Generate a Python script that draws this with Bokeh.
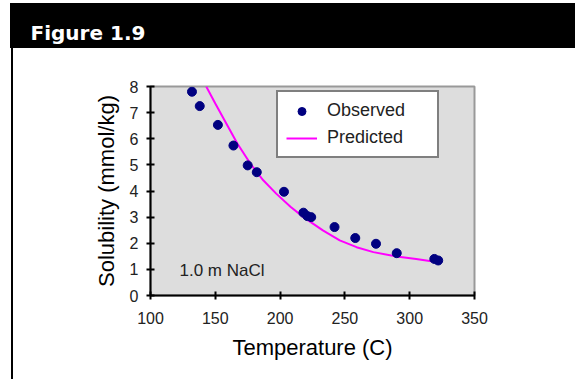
from bokeh.plotting import figure
from bokeh.models import (ColumnDataSource, Range1d, FixedTicker, Legend, LegendItem,
                          Label, Title)
from bokeh.embed import file_html
from bokeh.resources import INLINE

# Observed data
temperature_obs = [132, 138, 152, 164, 175, 182, 203, 218, 221, 224, 242, 258, 274, 290, 319, 322]
solubility_obs = [7.8, 7.25, 6.53, 5.74, 4.98, 4.72, 3.97, 3.17, 3.04, 3.0, 2.62, 2.2, 1.98, 1.62, 1.4, 1.34]

# Predicted curve
temperature_pred = [143, 150, 157, 167, 177, 187, 197, 208, 218, 233, 246, 259, 272, 290, 305, 318]
solubility_pred = [8.0, 7.35, 6.72, 5.82, 5.05, 4.41, 3.9, 3.4, 3.0, 2.49, 2.11, 1.85, 1.66, 1.49, 1.40, 1.30]

x_ticks = [100, 150, 200, 250, 300, 350]
y_ticks = [0, 1, 2, 3, 4, 5, 6, 7, 8]

title_text = "Figure 1.9"
x_label = "Temperature (C)"
y_label = "Solubility (mmol/kg)"
note_text = "1.0 m NaCl"

FL, FR, FT, FB = 150, 474, 86, 295   # frame edges on the canvas
W, H = 575, 379

p = figure(width=W, height=H, output_backend="svg", toolbar_location=None,
           x_range=Range1d(100, 350), y_range=Range1d(0, 8),
           min_border_left=FL, min_border_right=W - FR,
           min_border_top=FT, min_border_bottom=H - FB)

# page decoration: black header band and black left rule
p.styles = {
    "background-color": "white",
    "background-image": "linear-gradient(#000,#000), linear-gradient(#000,#000)",
    "background-size": "565px 45px, 2px 331px",
    "background-position": "10px 3px, 11px 48px",
    "background-repeat": "no-repeat",
}
p.border_fill_color = None
p.background_fill_color = "#dddddd"
p.outline_line_color = "#999999"
p.outline_line_width = 2
p.xgrid.visible = False
p.ygrid.visible = False

# header title, with a spacer panel between it and the frame
p.title = None
spacer = Title(text=" ", text_font_size="1px", standoff=39, text_color="white")
p.add_layout(spacer, "above")
head = Title(text=title_text, align="left", offset=30 - FL, standoff=0,
             vertical_align="bottom", text_font="DejaVu Sans",
             text_font_style="bold", text_font_size="20px", text_color="white")
p.add_layout(head, "above")

for ax in (p.xaxis[0], p.yaxis[0]):
    ax.axis_line_color = "black"
    ax.axis_line_width = 2
    ax.major_tick_line_color = "black"
    ax.major_tick_line_width = 2
    ax.major_tick_in = 4
    ax.major_tick_out = 4
    ax.minor_tick_line_color = None
    ax.major_label_text_font = "Liberation Sans"
    ax.major_label_text_font_size = "16px"
    ax.major_label_text_color = "#222222"
    ax.axis_label_text_font = "Liberation Sans"
    ax.axis_label_text_font_size = "22px"
    ax.axis_label_text_font_style = "normal"
    ax.axis_label_text_color = "black"

p.xaxis.ticker = FixedTicker(ticks=x_ticks)
p.yaxis.ticker = FixedTicker(ticks=y_ticks)
p.xaxis.axis_label = x_label
p.yaxis.axis_label = y_label
p.xaxis.major_label_standoff = 12
p.xaxis.axis_label_standoff = 8
p.yaxis.major_label_standoff = 8
p.yaxis.axis_label_standoff = 8

obs_src = ColumnDataSource(dict(x=temperature_obs, y=solubility_obs))
pred_src = ColumnDataSource(dict(x=temperature_pred, y=solubility_pred))

r_pred = p.line("x", "y", source=pred_src, line_color="#ff00ff", line_width=2)
r_obs = p.scatter("x", "y", source=obs_src, marker="circle", size=9,
                  fill_color="#000080", line_color="#000080")

legend = Legend(items=[LegendItem(label="Observed", renderers=[r_obs]),
                       LegendItem(label="Predicted", renderers=[r_pred])],
                location=(276 - FL, FB - 158),
                border_line_color="black", border_line_width=2,
                background_fill_color="white", background_fill_alpha=1,
                padding=8, spacing=6, margin=0,
                glyph_width=31, glyph_height=20,
                label_width=102, label_height=20, label_standoff=10,
                label_text_font="Liberation Sans", label_text_font_size="18px",
                label_text_color="#222222")
p.add_layout(legend, "center")

p.add_layout(Label(x=179 - FL, y=FB - 270, x_units="screen", y_units="screen",
                   text=note_text, text_font="Liberation Sans", text_font_size="17px",
                   text_color="#222222", text_baseline="middle", text_align="left"))

open("out.html", "w").write(file_html(p, INLINE))
